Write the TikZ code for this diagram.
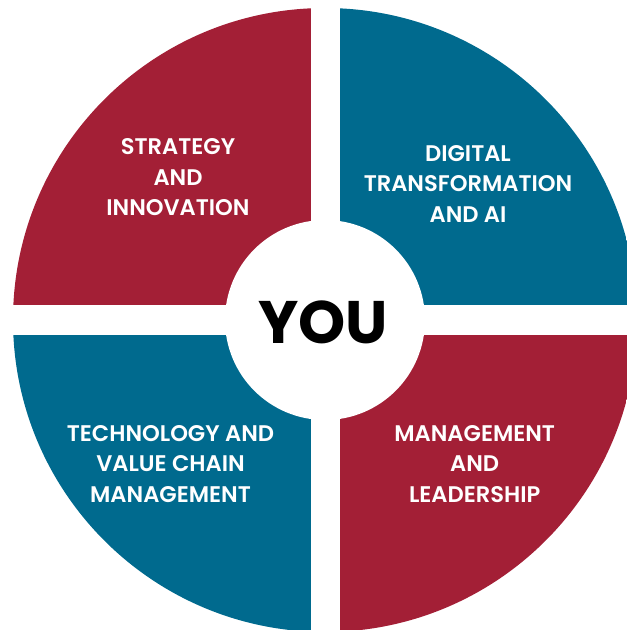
\documentclass[tikz,border=0pt]{standalone}
\usepackage{fontspec}
\setmainfont{Poppins}[BoldFont={Poppins SemiBold}]
\newfontfamily\youfont{Poppins}[UprightFont={* Bold}]
\definecolor{wred}{RGB}{163,31,54}
\definecolor{wblue}{RGB}{0,106,142}
\begin{document}
\begin{tikzpicture}[x=1pt,y=-1pt,
  label/.style={text=white,align=center,inner sep=0pt,font=\bfseries\fontsize{22.6}{30.5}\selectfont}]
\useasboundingbox (0,0) rectangle (627,630);
\begin{scope}
  \clip (325,320) circle[radius=312];
  \fill[wred]  (0,0) rectangle (310.5,305);
  \fill[wblue] (339.5,0) rectangle (627,305);
  \fill[wblue] (0,335) rectangle (310.5,630);
  \fill[wred]  (339.5,335) rectangle (627,630);
\end{scope}
\fill[white] (325,320) circle[radius=100];
\node[label] (strat) at (178,177.5) {STRATEGY\\AND\\INNOVATION};
\node[label] (digit) at (468,184) {DIGITAL\\TRANSFORMATION\\AND AI};
\node[label] (tech) at (170.5,463.7) {TECHNOLOGY AND\\VALUE CHAIN\\MANAGEMENT};
\node[label] (mgmt) at (474.7,463.7) {MANAGEMENT\\AND\\LEADERSHIP};
\node[inner sep=0pt,font=\youfont\fontsize{60}{60}\selectfont] (you) at (323,322.8) {YOU};
\end{tikzpicture}
\end{document}
